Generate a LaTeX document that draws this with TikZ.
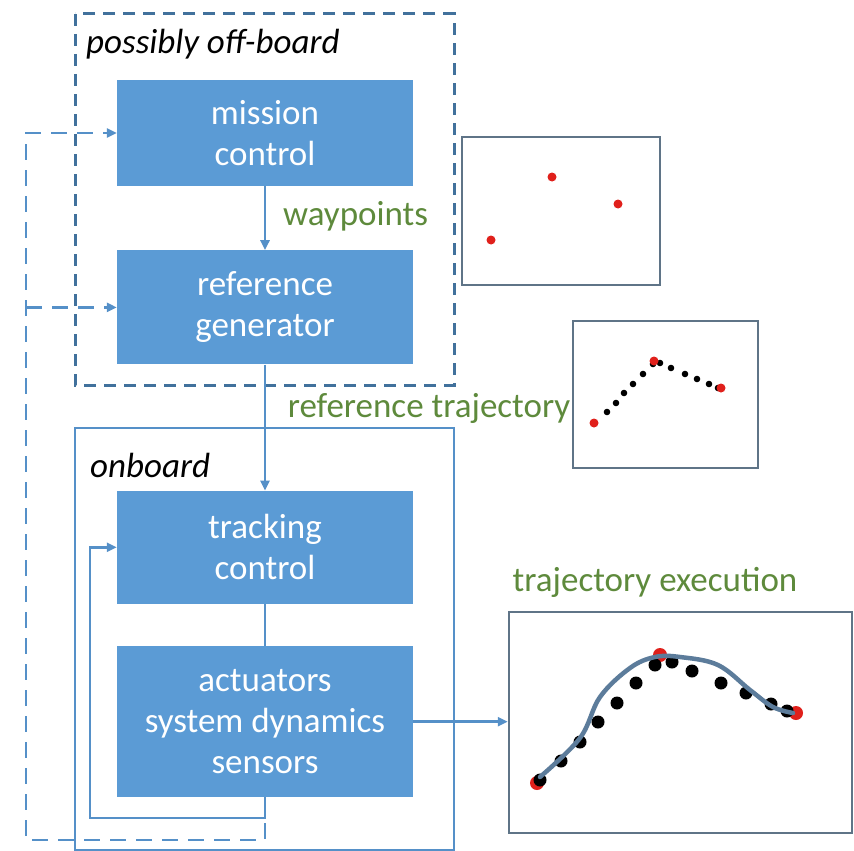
\documentclass[tikz,border=0pt]{standalone}
\usepackage{fontspec}
\setmainfont{Carlito}
\usepackage{xcolor}
\usetikzlibrary{positioning,calc,arrows.meta}

\definecolor{boxblue}{HTML}{5B9BD5}
\definecolor{lineblue}{HTML}{5590C8}
\definecolor{frameblue}{HTML}{41719C}
\definecolor{plotgray}{HTML}{5F7487}
\definecolor{labelgreen}{HTML}{5E8A3C}
\definecolor{dotred}{HTML}{E0201B}

\tikzset{
  block/.style={fill=boxblue, text=white, align=center, minimum width=296pt, inner sep=0pt,
    font=\fontsize{35}{41}\selectfont},
  flow/.style={draw=lineblue, line width=2.5pt, -{Triangle[length=10pt,width=9pt]}},
  fbdash/.style={draw=lineblue, line width=2.8pt, dash pattern=on 16pt off 10pt},
  plotbox/.style={draw=plotgray, line width=2.5pt, fill=white},
  tag/.style={text=labelgreen, font=\fontsize{35}{41}\selectfont, inner sep=0pt},
  area/.style={font=\fontsize{35}{41}\selectfont\itshape, inner sep=0pt}
}

\begin{document}
\begin{tikzpicture}[x=1pt, y=-1pt, node distance=0pt]
    \useasboundingbox (0,0) rectangle (854,851);

    % containers
    \draw[frameblue, line width=3pt, dash pattern=on 12pt off 8pt] (75,14) rectangle (454,385);
    \draw[lineblue, line width=2.5pt] (75,428) rectangle (454,850);
    \node [area, anchor=west] (offlbl) at (86,44) {possibly off-board};
    \node [area, anchor=west] (onlbl) at (90,465) {onboard};

    % blocks
    \node [block, minimum height=106pt] (mc) at (265,133) {mission\\control};
    \node [block, minimum height=114pt, below=64pt of mc] (rg) {reference\\generator};
    \node [block, minimum height=113pt, below=126pt of rg] (tc) {tracking\\control};
    \node [block, minimum height=151pt, below=42pt of tc] (act) {actuators\\system dynamics\\sensors};

    % signal flow
    \draw [flow] (mc) -- (rg);
    \draw [flow] (rg) -- (tc);
    \draw [draw=lineblue, line width=2.5pt] (tc) -- (act);
    \node [tag, anchor=west] (wplbl) at (283,216) {waypoints};
    \node [tag] (rtlbl) at (429,408) {reference trajectory};

    % feedback loops
    \coordinate (fbouter) at (26,840);
    \coordinate (fbinner) at (90,818);
    \draw [fbdash, -{Triangle[length=10pt,width=9pt]}] (act.south) |- (fbouter) |- (mc.west);
    \draw [fbdash, -{Triangle[length=10pt,width=9pt]}] (fbouter |- rg.west) -- (rg.west);
    \draw [flow] (act.south) |- (fbinner) |- (tc.west);

    % plots
    \node [plotbox, minimum width=198pt, minimum height=148pt] (wp) at (561,211) {};
    \foreach \p in {(491,240),(552,177),(618,204)}
        \fill[dotred] \p circle (4.5pt);

    \node [plotbox, minimum width=185pt, minimum height=147pt] (rt) at (665.5,394.5) {};
    \foreach \p in {(607,412),(616,403),(624,393),(633,384),(643,374),(653,364),
                    (660,363),(671,368),(685,374),(697,379),(709,384),(718,388)}
        \fill[black] \p circle (3.3pt);
    \foreach \p in {(594,423),(654,361),(721,388)}
        \fill[dotred] \p circle (4.5pt);

    \node [plotbox, minimum width=343pt, minimum height=221pt] (ex) at (680.5,722.5) {};
    \node [tag] (exlbl) at (655,582) {trajectory execution};
    \foreach \p in {(537,783),(660,655),(796,713)}
        \fill[dotred] \p circle (7pt);
    \foreach \p in {(540,780),(561,761),(580,742),(598,722),(617,703),(636,683),(655,665),
                    (672,662),(692,671),(721,683),(746,693),(771,704),(787,711)}
        \fill[black] \p circle (6.5pt);
    \draw [plotgray!70!lineblue, line width=4.5pt, line cap=round]
        plot[smooth, tension=0.6] coordinates {(540,777) (580,738) (600,697) (630,668)
            (655,657) (680,657) (718,665) (750,690) (773,707) (793,713)};

    \draw [flow] (act.east) -- (act.east -| ex.west);
\end{tikzpicture}
\end{document}
